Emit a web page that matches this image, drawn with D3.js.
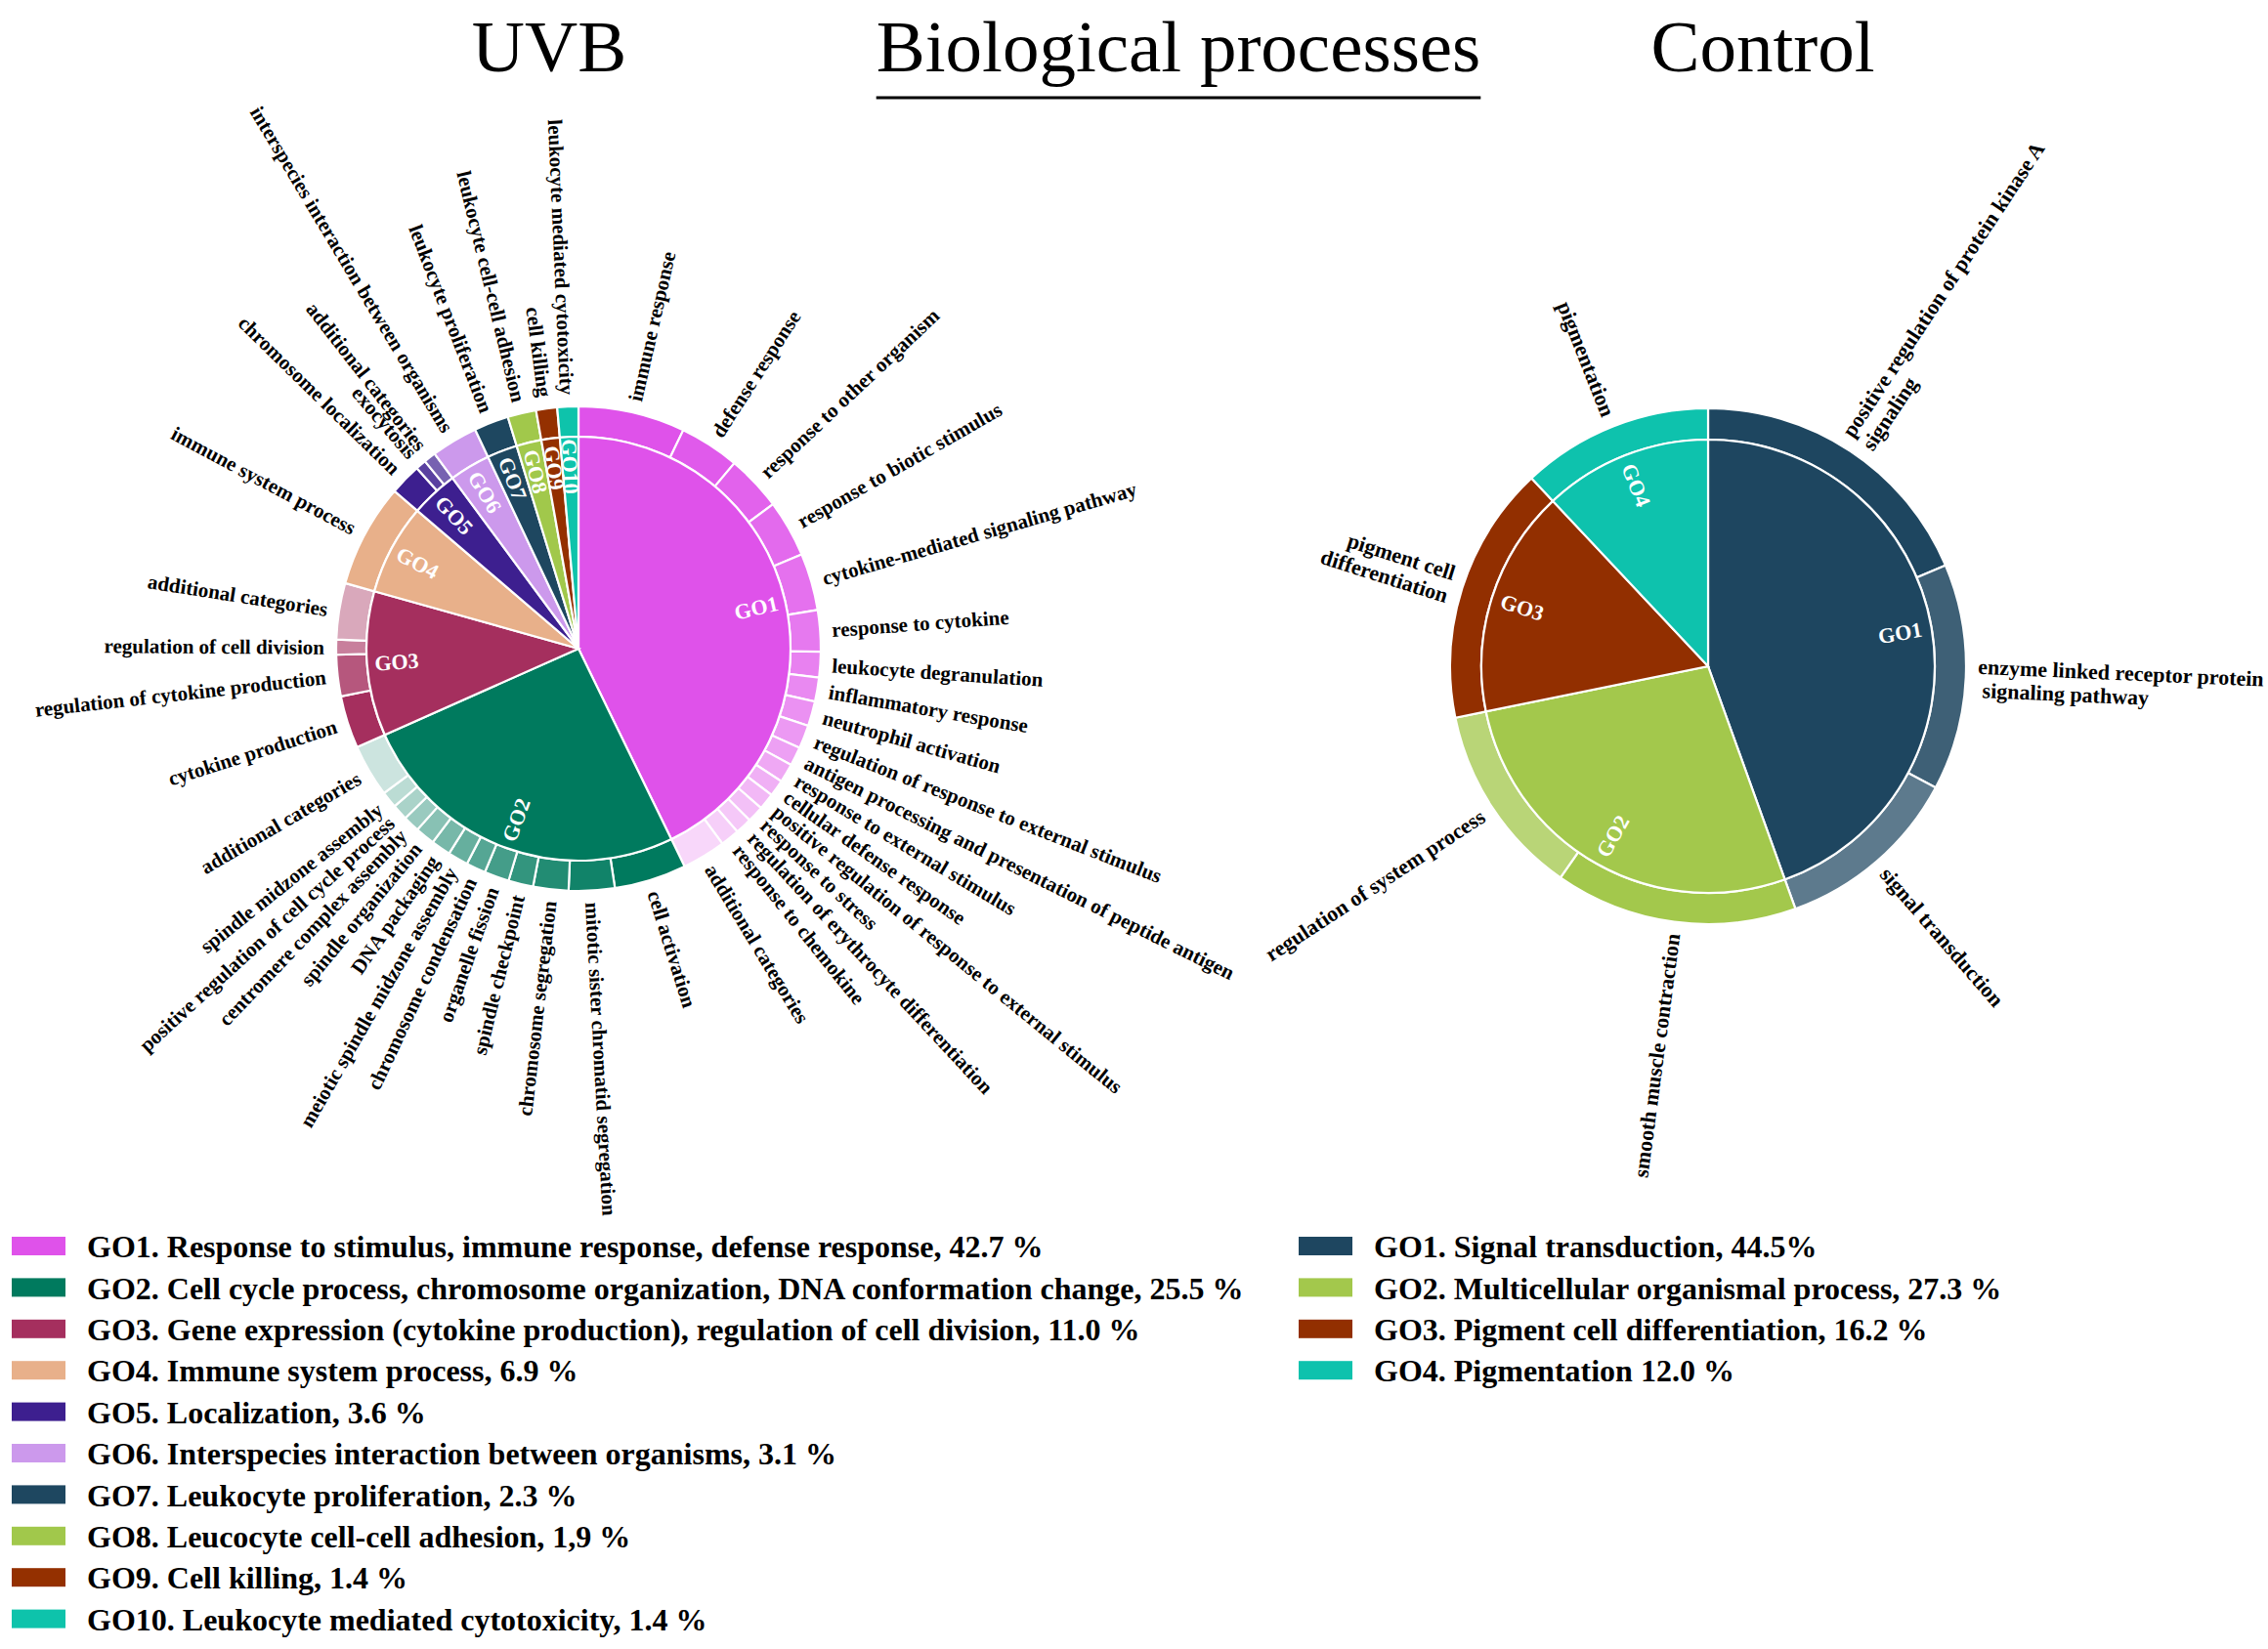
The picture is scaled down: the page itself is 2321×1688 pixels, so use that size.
<!DOCTYPE html>
<html>
<head>
<meta charset="utf-8">
<script src="https://cdn.jsdelivr.net/npm/d3@7"></script>
<style>
  body { margin: 0; background: #fff; }
  text { font-family: "Liberation Serif", "Times New Roman", serif; }
</style>
</head>
<body>
<div id="chart"></div>
<script>
// ---- data ----
var uvbGroups = ["GO1", "GO2", "GO3", "GO4", "GO5", "GO6", "GO7", "GO8", "GO9", "GO10"];
var uvbValues = [42.7, 25.5, 11.0, 6.9, 3.6, 3.1, 2.3, 1.9, 1.4, 1.4];
var uvbLegend = [
  "GO1. Response to stimulus, immune response, defense response, 42.7 %",
  "GO2. Cell cycle process, chromosome organization, DNA conformation change, 25.5 %",
  "GO3. Gene expression (cytokine production), regulation of cell division, 11.0 %",
  "GO4. Immune system process, 6.9 %",
  "GO5. Localization, 3.6 %",
  "GO6. Interspecies interaction between organisms, 3.1 %",
  "GO7. Leukocyte proliferation, 2.3 %",
  "GO8. Leucocyte cell-cell adhesion, 1,9 %",
  "GO9. Cell killing, 1.4 %",
  "GO10. Leukocyte mediated cytotoxicity, 1.4 %"
];
var uvbSubLabels = [
  ["immune response", "defense response", "response to other organism", "response to biotic stimulus",
   "cytokine-mediated signaling pathway", "response to cytokine", "leukocyte degranulation",
   "inflammatory response", "neutrophil activation", "regulation of response to external stimulus",
   "antigen processing and presentation of peptide antigen", "response to external stimulus",
   "cellular defense response", "positive regulation of response to external stimulus",
   "response to stress", "regulation of erythrocyte differentiation", "response to chemokine",
   "additional categories"],
  ["cell activation", "mitotic sister chromatid segregation", "chromosome segregation",
   "spindle checkpoint", "organelle fission", "chromosome condensation",
   "meiotic spindle midzone assembly", "DNA packaging", "spindle organization",
   "centromere complex assembly", "positive regulation of cell cycle process",
   "spindle midzone assembly", "additional categories"],
  ["cytokine production", "regulation of cytokine production", "regulation of cell division", "additional categories"],
  ["immune system process"],
  ["chromosome localization", "exocytosis", "additional categories"],
  ["interspecies interaction between organisms"],
  ["leukocyte proliferation"],
  ["leukocyte cell-cell adhesion"],
  ["cell killing"],
  ["leukocyte mediated cytotoxicity"]
];
var uvbSubValues = [
  [7.1, 4.0, 3.7, 3.8, 3.8, 2.75, 1.7, 1.6, 1.65, 1.55, 1.25, 1.25, 1.1, 1.1, 1.1, 1.1, 1.25, 2.9],
  [4.8, 3.05, 2.35, 1.65, 1.65, 1.3, 1.35, 1.3, 1.3, 1.1, 1.05, 1.1, 3.5],
  [3.5, 2.75, 1.0, 3.75],
  [6.9],
  [2.1, 0.7, 0.8],
  [3.1], [2.3], [1.9], [1.4], [1.4]
];

var ctrlGroups = ["GO1", "GO2", "GO3", "GO4"];
var ctrlValues = [44.5, 27.3, 16.2, 12.0];
var ctrlLegend = [
  "GO1. Signal transduction, 44.5%",
  "GO2. Multicellular organismal process, 27.3 %",
  "GO3. Pigment cell differentiation, 16.2 %",
  "GO4. Pigmentation 12.0 %"
];
var ctrlSubLabels = [
  ["positive regulation of protein kinase A\nsignaling", "enzyme linked receptor protein\n signaling pathway", "signal transduction"],
  ["smooth muscle contraction", "regulation of system process"],
  ["pigment cell\ndifferentiation"],
  ["pigmentation"]
];
var ctrlSubValues = [[18.6, 14.2, 11.7], [15.2, 12.1], [16.2], [12.0]];

// ---- styles ----
var uvbColors = ["#df52ea", "#007a5e", "#a52f5e", "#e8b08a", "#3d1f8f", "#cc99ec", "#1e4760", "#a1c84b", "#943000", "#0ec3ab"];
var uvbFade = [0.77, 0.8, 0.58, 0, 0.3, 0, 0, 0, 0, 0];
var ctrlColors = ["#1e4660", "#a3c84c", "#922f00", "#0ec2ad"];
var ctrlFade = [0.28, 0.24, 0, 0];

var width = 2321, height = 1688;

var svg = d3.select("#chart")
  .append("svg")
    .attr("width", width)
    .attr("height", height);

function drawSunburst(cx, cy, r0, r1, groups, values, subLabels, subValues, colors, fade, labelSize) {
  var g = svg.append("g").attr("transform", "translate(" + cx + "," + cy + ")");

  var pie = d3.pie().sort(null).value(function(d) { return d; });
  var arcs = pie(values);

  var inner = d3.arc().innerRadius(0).outerRadius(r0);
  var ring = d3.arc().innerRadius(r0).outerRadius(r1);

  // build the outer ring inside each parent slice
  var subs = [];
  arcs.forEach(function(a, i) {
    var total = d3.sum(subValues[i]);
    var ang = d3.scaleLinear().domain([0, total]).range([a.startAngle, a.endAngle]);
    var acc = 0;
    var n = subValues[i].length;
    subValues[i].forEach(function(v, j) {
      var t = n > 1 ? j / (n - 1) * fade[i] : 0;
      subs.push({
        startAngle: ang(acc),
        endAngle: ang(acc + v),
        label: subLabels[i][j],
        color: d3.interpolateRgb(colors[i], "#ffffff")(t)
      });
      acc += v;
    });
  });

  g.selectAll(".ring")
    .data(subs)
    .enter().append("path")
      .attr("class", "ring")
      .attr("d", ring)
      .attr("fill", function(d) { return d.color; })
      .attr("stroke", "#fff")
      .attr("stroke-width", 2.2);

  g.selectAll(".slice")
    .data(arcs)
    .enter().append("path")
      .attr("class", "slice")
      .attr("d", inner)
      .attr("fill", function(d, i) { return colors[i]; })
      .attr("stroke", "#fff")
      .attr("stroke-width", 2.2);

  // GO labels inside the pie
  g.selectAll(".golab")
    .data(arcs)
    .enter().append("text")
      .attr("class", "golab")
      .attr("transform", function(d) {
        var a = (d.startAngle + d.endAngle) / 2;
        var deg = a * 180 / Math.PI;
        var rot = deg < 180 ? deg - 90 : deg - 270;
        var rr = r0 * 0.86;
        return "translate(" + (rr * Math.sin(a)) + "," + (-rr * Math.cos(a)) + ") rotate(" + rot + ")";
      })
      .attr("text-anchor", "middle")
      .attr("dy", "0.35em")
      .style("font-size", "22px")
      .style("font-weight", "bold")
      .attr("fill", "#fff")
      .text(function(d, i) { return groups[i]; });

  // radial labels outside the ring
  var lab = g.selectAll(".sublab")
    .data(subs)
    .enter().append("text")
      .attr("class", "sublab")
      .attr("transform", function(d) {
        var a = (d.startAngle + d.endAngle) / 2;
        var deg = a * 180 / Math.PI;
        var rot = deg < 180 ? deg - 90 : deg + 90;
        var rr = r1 + 12;
        return "translate(" + (rr * Math.sin(a)) + "," + (-rr * Math.cos(a)) + ") rotate(" + rot + ")";
      })
      .attr("text-anchor", function(d) {
        return (d.startAngle + d.endAngle) / 2 < Math.PI ? "start" : "end";
      })
      .style("font-size", labelSize + "px")
      .style("font-weight", "bold")
      .style("white-space", "pre")
      .attr("fill", "#000");

  lab.each(function(d) {
    var lines = d.label.split("\n");
    var t = d3.select(this);
    lines.forEach(function(l, k) {
      t.append("tspan")
        .attr("x", 0)
        .attr("dy", k === 0 ? (0.35 - (lines.length - 1) * 0.55) + "em" : "1.1em")
        .text(l);
    });
  });
}

drawSunburst(592, 664, 217, 248, uvbGroups, uvbValues, uvbSubLabels, uvbSubValues, uvbColors, uvbFade, 21);
drawSunburst(1748, 682, 232, 264, ctrlGroups, ctrlValues, ctrlSubLabels, ctrlSubValues, ctrlColors, ctrlFade, 22);

// ---- titles ----
function title(x, txt) {
  return svg.append("text")
    .attr("x", x).attr("y", 73)
    .attr("text-anchor", "middle")
    .style("font-size", "75px")
    .text(txt);
}
title(562, "UVB");
var bp = title(1206, "Biological processes");
var bpw = bp.node().getComputedTextLength();
svg.append("line")
  .attr("x1", 1206 - bpw / 2).attr("x2", 1206 + bpw / 2)
  .attr("y1", 100).attr("y2", 100)
  .attr("stroke", "#000")
  .attr("stroke-width", 3);
title(1804, "Control");

// ---- legends ----
function drawLegend(x, y, labels, colors) {
  var lg = svg.append("g").attr("transform", "translate(" + x + "," + y + ")");
  var row = lg.selectAll(".leg")
    .data(labels)
    .enter().append("g")
      .attr("class", "leg")
      .attr("transform", function(d, i) { return "translate(0," + i * 42.4 + ")"; });
  row.append("rect")
    .attr("x", 0).attr("y", -10)
    .attr("width", 55).attr("height", 19)
    .attr("fill", function(d, i) { return colors[i]; });
  row.append("text")
    .attr("x", 77)
    .attr("dy", "0.35em")
    .style("font-size", "32px")
    .style("font-weight", "bold")
    .text(function(d) { return d; });
}

drawLegend(12, 1276, uvbLegend, uvbColors);
drawLegend(1329, 1276, ctrlLegend, ctrlColors);
</script>
</body>
</html>
